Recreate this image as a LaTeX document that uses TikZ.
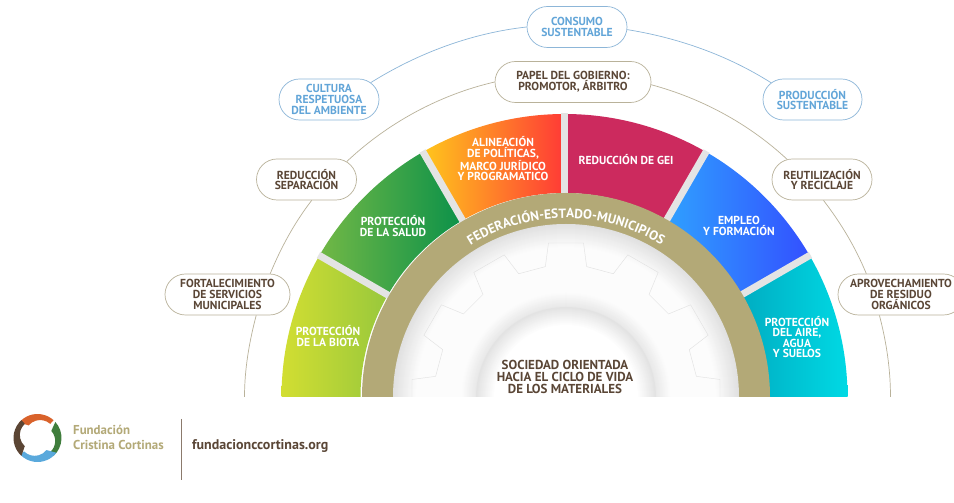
\documentclass[tikz,border=0pt]{standalone}
\usepackage{fontspec}
\setmainfont{PT Sans}
\usetikzlibrary{shapes.misc,calc,decorations.text}
\definecolor{tanring}{HTML}{B3A977}
\definecolor{tanline}{HTML}{B9B29A}
\definecolor{blueline}{HTML}{8DB6D8}
\definecolor{browntxt}{HTML}{5A4636}
\definecolor{bluetxt}{HTML}{62A5D8}
\definecolor{gapgray}{HTML}{E4E4E4}
\definecolor{gearline}{HTML}{E2E2E2}
\definecolor{biotaA}{HTML}{D2DE32}
\definecolor{biotaB}{HTML}{98C83C}
\definecolor{saludA}{HTML}{72B846}
\definecolor{saludB}{HTML}{0B9149}
\definecolor{alinA}{HTML}{FFC61C}
\definecolor{alinB}{HTML}{FF3A36}
\definecolor{geiA}{HTML}{CC2A5E}
\definecolor{emplA}{HTML}{2FA0FF}
\definecolor{emplB}{HTML}{3350FF}
\definecolor{aireA}{HTML}{00ADC2}
\definecolor{aireB}{HTML}{00D9E4}
\definecolor{lgorange}{HTML}{D9622B}
\definecolor{lggreen}{HTML}{3F7D3C}
\definecolor{lgblue}{HTML}{5AA9DC}
\definecolor{lgbrown}{HTML}{5B4534}
\definecolor{footline}{HTML}{8B7A6C}
\tikzset{
 pill/.style={shape=rounded rectangle,fill=white,draw=tanline,line width=.7pt,inner sep=0pt,align=center,text=browntxt,
   font=\fontsize{11.6}{10.6}\selectfont\bfseries,minimum height=41pt},
 bluepill/.style={pill,draw=blueline,text=bluetxt},
 arcgray/.style={draw=tanline,line width=.7pt,looseness=.86},
 arcblue/.style={draw=blueline,line width=.7pt,looseness=.86},
 wlabel/.style={text=white,align=center,font=\fontsize{11.6}{10.6}\selectfont\bfseries,inner sep=0pt},
 gapline/.style={draw=gapgray,line width=7pt},
 foot/.style={inner sep=0pt,anchor=west,font=\bfseries}
}
\newcommand{\wedgesec}[4]{\path[left color=#3,right color=#4]
 ($(w)+(#1:283)$) arc[start angle=#1,end angle=#2,radius=283] -- ($(w)+(#2:204)$) arc[start angle=#2,end angle=#1,radius=204] -- cycle;}
\newcommand{\handarc}[3]{\fill[#3] ($(lg)+(#1:24)$) arc[start angle=#1,end angle=#2,radius=24] -- ($(lg)+(#2:19)$) arc[start angle=#2,end angle=#1,radius=15] -- cycle;}
\begin{document}
\begin{tikzpicture}[x=1pt,y=1pt]
\useasboundingbox (0,0) rectangle (954,503);
\fill[white] (0,0) rectangle (954,503);
\coordinate (w) at (564.5,106);
\coordinate (r) at (566,106);
% wedges
\wedgesec{180}{150}{biotaA}{biotaB}
\wedgesec{150}{120}{saludA}{saludB}
\wedgesec{120}{90}{alinA}{alinB}
\wedgesec{90}{60}{geiA}{geiA}
\wedgesec{60}{30}{emplA}{emplB}
\wedgesec{30}{0}{aireA}{aireB}
\foreach \a in {30,60,90,120,150}
  \draw[gapline] ($(w)+(\a:200)$) -- ($(w)+(\a:284)$);
% tan ring
\fill[tanring] ($(r)+(180:204)$) arc[start angle=180,end angle=0,radius=204] -- cycle;
% inner shaded disc, cut at the base line
\begin{scope}
\clip (300,106) rectangle (830,400);
\foreach \q in {173,172,...,150}{
  \pgfmathsetmacro{\g}{1+11*(\q-150)/23}
  \fill[black!\g!white] (r) circle (\q);}
\foreach \q in {149,146,...,107}
  \fill[black!1!white] (r) circle (\q);
\foreach \q in {105,104,...,91}{
  \pgfmathsetmacro{\g}{1+8*(105-\q)/15}
  \fill[black!\g!white] (r) circle (\q);}
\foreach \q in {90,89,...,72}{
  \pgfmathsetmacro{\g}{11*(\q-72)/18}
  \fill[black!\g!white] (r) circle (\q);}
\fill[white] (r) circle (71);
% gear outline
\foreach \t in {0,30,...,180}
  \draw[gearline,line width=.45pt,line join=round]
   ($(r)+(\t-21:132)$) -- ($(r)+(\t-9:132)$) -- ($(r)+(\t-6.5:155)$) -- ($(r)+(\t+6.5:155)$) -- ($(r)+(\t+9:132)$);
\end{scope}
% outer grey ring
\coordinate (g0) at (244.5,106);
\coordinate (g1) at (890.5,106);
% pills
\node[pill,minimum width=100pt] (cons0) at (306.5,323.5) {REDUCCIÓN\\SEPARACIÓN};
\node[pill,minimum width=125pt] (fort) at (227.5,208.5) {FORTALECIMIENTO\\DE SERVICIOS\\MUNICIPALES};
\node[pill,minimum width=100pt] (reut) at (822,323.5) {REUTILIZACIÓN\\Y RECICLAJE};
\node[pill,minimum width=126pt] (apro) at (901,208.5) {APROVECHAMIENTO\\DE RESIDUO\\ORGÁNICOS};
\node[pill,minimum width=156pt] (papel) at (573,421) {PAPEL DEL GOBIERNO:\\PROMOTOR, ÁRBITRO};
\node[bluepill,minimum width=100pt] (cons) at (577,476) {CONSUMO\\SUSTENTABLE};
\node[bluepill,minimum width=100pt] (cult) at (329,403.5) {CULTURA\\RESPETUOSA\\DEL AMBIENTE};
\node[bluepill,minimum width=99pt] (prod) at (812.5,403.5) {PRODUCCIÓN\\SUSTENTABLE};
% connectors
\draw[arcgray] (g0) to[out=90,in=255.3] (fort.-36.7);
\draw[arcgray] (fort.26.6) to[out=67.6,in=232.4] (cons0.-76.3);
\draw[arcgray] (cons0.24) to[out=43.3,in=193] (papel.180);
\draw[arcgray] (papel.-2) to[out=-15,in=137] (reut.150);
\draw[arcgray] (reut.-86) to[out=-52.4,in=112.4] (apro.149.6);
\draw[arcgray] (apro.224.3) to[out=-75.3,in=90] (g1);
\draw[arcblue] (cult.22.6) to[out=32,in=186.3] (cons.180);
\draw[arcblue] (cons.-3.4) to[out=-9.1,in=147.6] (prod.158.5);
% wedge labels
\node[wlabel] (lb1) at (328,167) {PROTECCIÓN\\DE LA BIOTA};
\node[wlabel] (lb2) at (393,277) {PROTECCIÓN\\DE LA SALUD};
\node[wlabel] (lb3) at (503,344) {ALINEACIÓN\\DE POLÍTICAS,\\MARCO JURÍDICO\\Y PROGRAMATICO};
\node[wlabel] (lb4) at (626,343) {REDUCCIÓN DE GEI};
\node[wlabel] (lb5) at (739,277) {EMPLEO\\Y FORMACIÓN};
\node[wlabel] (lb6) at (797,166) {PROTECCIÓN\\DEL AIRE,\\AGUA\\Y SUELOS};
% ring text
\path[decorate,decoration={text along path,text align=center,
  text={|\fontsize{13.3}{14}\selectfont\bfseries\color{white}|FEDERACIÓN-ESTADO-MUNICIPIOS}}]
  ($(r)+(125:179)$) arc[start angle=125,end angle=55,radius=179];
% hub text
\node[inner sep=0pt,align=center,text=browntxt,font=\fontsize{13}{12}\selectfont\bfseries] (hub) at (565,126.5)
  {SOCIEDAD ORIENTADA\\HACIA EL CICLO DE VIDA\\DE LOS MATERIALES};
% logo
\coordinate (lg) at (37.5,65);
\handarc{140}{48}{lgorange}
\handarc{42}{-48}{lggreen}
\handarc{-38}{-135}{lgblue}
\handarc{228}{132}{lgbrown}
% footer
\node[foot,text=tanring,align=left,font=\fontsize{12.9}{14.5}\selectfont\bfseries] (fname) at (73,65.5) {Fundación\\Cristina Cortinas};
\coordinate (fl0) at (181,84);
\coordinate (fl1) at (181,23);
\draw[footline,line width=.8pt] (fl0) -- (fl1);
\node[foot,text=browntxt,font=\fontsize{14}{14}\selectfont\bfseries] (furl) at (192,57) {fundacionccortinas.org};
\end{tikzpicture}
\end{document}
